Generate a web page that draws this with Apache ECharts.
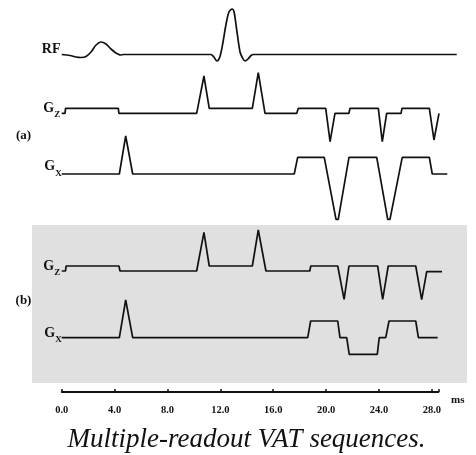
<!DOCTYPE html>
<html>
<head>
<meta charset="utf-8">
<script src="https://cdn.jsdelivr.net/npm/echarts@6/dist/echarts.min.js"></script>
<style>
  html, body { margin: 0; padding: 0; background: #fff; }
  #chart { width: 476px; height: 455px; }
</style>
</head>
<body>
<div id="chart"></div>
<script>
// waveform samples: time (ms) and amplitude (up = positive)
var rfTime = [0, 0.63, 1.08, 1.46, 1.84, 2.22, 2.6, 2.97, 3.35, 3.73, 4.1, 4.33, 4.41, 4.7, 11.0,
  11.29, 11.51, 11.74, 11.96, 12.19, 12.42, 12.65, 12.89, 13.04, 13.24, 13.49, 13.68, 13.87, 14.09, 14.32, 14.51, 14.8, 29.88];
var rfAmp = [0, -1, -2.5, -3, -2, 2.5, 9.5, 12.5, 10.5, 5.5, 1.5, 0, -0.5, 0, 0,
  0, -2.5, -6.5, -2.5, 11.5, 29.5, 42.5, 45.5, 42.5, 24.5, 2.5, -3.5, -6.5, -4.5, -1, 0, 0, 0];

var gzATime = [0, 0.25, 0.29, 4.28, 4.33, 10.21, 10.76, 11.16, 14.42, 14.87, 15.38, 17.78, 17.9,
  19.97, 20.3, 20.67, 21.73, 21.81, 23.95, 24.25, 24.58, 25.67, 25.74, 27.81, 28.16, 28.54];
var gzAAmp = [0, 0, 5, 5, 0, 0, 37.3, 5, 5, 40.6, 0, 0, 5,
  5, -28.4, 0, 0, 5, 5, -28.4, 0, 0, 5, 5, -26.7, 0];

var gxATime = [0, 4.36, 4.84, 5.37, 17.59, 17.85, 19.86, 20.75, 20.92, 21.73, 23.83, 24.66, 24.83, 25.76, 27.81, 28.03, 29.17];
var gxAAmp = [0, 0, 38, 0, 0, 16.7, 16.7, -45.3, -45.3, 16.7, 16.7, -45.3, -45.3, 16.7, 16.7, 0, 0];

var gzBTime = [0, 0.29, 0.33, 4.33, 4.41, 10.21, 10.76, 11.16, 14.42, 14.87, 15.45, 18.77, 18.84,
  20.88, 21.36, 21.73, 23.9, 24.28, 24.7, 26.78, 27.23, 27.61, 28.77];
var gzBAmp = [0, 0, 5, 5, 0, 0, 38.7, 5, 5, 41, 0, 0, 5,
  5, -28.3, 5, 5, -28.3, 5, 5, -28.7, -0.7, -0.7];

var gxBTime = [0, 4.36, 4.84, 5.37, 18.61, 18.83, 20.88, 21.05, 21.56, 21.75, 23.87, 24.02, 24.51, 24.76, 26.78, 26.98, 28.44];
var gxBAmp = [0, 0, 37.7, 0, 0, 16.7, 16.7, 0, 0, -16.6, -16.6, 0, 0, 16.7, 16.7, 0, 0];

// vertical position of each trace's baseline (layout)
var offsets = { rf: 337.5, gzA: 278.7, gxA: 218, gzB: 121, gxB: 54.3 };

var ink = "#111";
var serif = '"Liberation Serif", "DejaVu Serif", serif';

function pts(t, a, off) {
  return t.map(function (v, i) { return [v, off + a[i]]; });
}

function trace(name, data, smooth) {
  return {
    name: name,
    type: "line",
    data: data,
    symbol: "none",
    smooth: smooth || false,
    clip: false,
    silent: true,
    lineStyle: { color: ink, width: 1.7 }
  };
}

function txt(s, x, y, font, align) {
  return {
    type: "text",
    z: 10,
    style: {
      text: s, x: x, y: y, font: font, fill: ink,
      align: align, textAlign: align,
      verticalAlign: "middle", textVerticalAlign: "middle"
    }
  };
}

// "G" with a small subscript letter
function chLabel(sub, xRight, yMain, ySub) {
  return [
    txt("G", xRight - 6.3, yMain, "bold 14px " + serif, "right"),
    txt(sub, xRight - 6.3, ySub, "bold 9px " + serif, "left")
  ];
}

var myChart = echarts.init(document.getElementById("chart"));

var option = {
  animation: false,
  backgroundColor: "#fff",
  grid: [
    // traces (wider so the lines can run past the end of the time axis)
    { left: 61.7, right: 17.7, top: 0, bottom: 63 },
    // time axis
    { left: 61.7, right: 37.5, top: 0, bottom: 63 }
  ],
  xAxis: [
    { gridIndex: 0, type: "value", min: 0, max: 30, show: false },
    {
      gridIndex: 1,
      type: "value",
      min: 0,
      max: 28.5,
      interval: 4,
      axisLine: { show: true, lineStyle: { color: ink, width: 1.8 } },
      axisTick: { show: true, inside: true, length: 3, lineStyle: { color: ink, width: 1.5 } },
      splitLine: { show: false },
      axisLabel: {
        margin: 13,
        color: ink,
        fontFamily: serif,
        fontWeight: "bold",
        fontSize: 10.5,
        formatter: function (v) { return v % 4 === 0 ? v.toFixed(1) : ""; }
      }
    }
  ],
  yAxis: [
    { gridIndex: 0, type: "value", min: 0, max: 392, show: false },
    { gridIndex: 1, type: "value", min: 0, max: 392, show: false }
  ],
  graphic: [
    { type: "rect", z: -1, shape: { x: 32, y: 225, width: 435, height: 158 }, style: { fill: "#e0e0e0" } },
    txt("RF", 60.5, 49.7, "bold 14px " + serif, "right"),
    txt("(a)", 23.5, 136, "bold 13px " + serif, "center"),
    txt("(b)", 23.5, 300.5, "bold 13px " + serif, "center"),
    txt("ms", 451, 400, "bold 11px " + serif, "left"),
    txt("Multiple-readout VAT sequences.", 246.5, 440, "italic 27px " + serif, "center")
  ].concat(
    chLabel("Z", 60.5, 108.7, 115),
    chLabel("X", 61.5, 166.7, 173.3),
    chLabel("Z", 60.5, 266.7, 273),
    chLabel("X", 61.5, 333, 340)
  ),
  series: [
    trace("RF", pts(rfTime, rfAmp, offsets.rf), 0.3),
    trace("Gz (a)", pts(gzATime, gzAAmp, offsets.gzA)),
    trace("Gx (a)", pts(gxATime, gxAAmp, offsets.gxA)),
    trace("Gz (b)", pts(gzBTime, gzBAmp, offsets.gzB)),
    trace("Gx (b)", pts(gxBTime, gxBAmp, offsets.gxB))
  ]
};

myChart.setOption(option);
</script>
</body>
</html>
